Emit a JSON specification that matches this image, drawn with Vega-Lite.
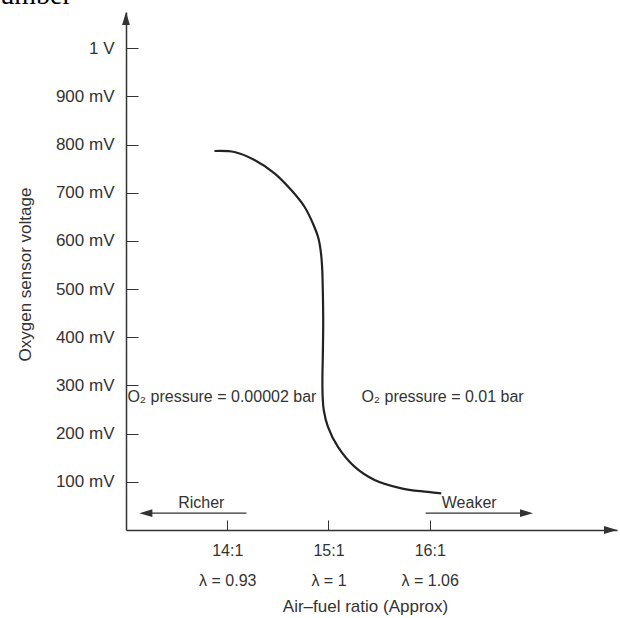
{
  "$schema": "https://vega.github.io/schema/vega-lite/v6.json",
  "width": 491,
  "height": 518,
  "autosize": {"type": "none"},
  "padding": {"left": 126, "top": 12, "right": 3, "bottom": 88},
  "background": "white",
  "config": {
    "view": {"stroke": null},
    "font": "Liberation Sans",
    "title": {"font": "Liberation Serif", "fontSize": 28, "fontWeight": "normal", "color": "#000"}
  },
  "title": {"text": "Number", "anchor": "start", "frame": "group", "dx": -146, "dy": 29, "offset": 9, "baseline": "alphabetic"},
  "datasets": {
    "curve": [
      {"ratio": 13.874, "mV": 786.5, "order": 1},
      {"ratio": 14.071, "mV": 784.4, "order": 2},
      {"ratio": 14.269, "mV": 767.8, "order": 3},
      {"ratio": 14.467, "mV": 740.2, "order": 4},
      {"ratio": 14.632, "mV": 705.5, "order": 5},
      {"ratio": 14.763, "mV": 670.9, "order": 6},
      {"ratio": 14.855, "mV": 632.0, "order": 7},
      {"ratio": 14.900, "mV": 606.0, "order": 8},
      {"ratio": 14.924, "mV": 578.0, "order": 9},
      {"ratio": 14.937, "mV": 546.4, "order": 10},
      {"ratio": 14.944, "mV": 498.0, "order": 11},
      {"ratio": 14.948, "mV": 429.6, "order": 12},
      {"ratio": 14.944, "mV": 359.6, "order": 13},
      {"ratio": 14.940, "mV": 311.3, "order": 14},
      {"ratio": 14.944, "mV": 269.8, "order": 15},
      {"ratio": 14.954, "mV": 248.0, "order": 16},
      {"ratio": 14.994, "mV": 214.4, "order": 17},
      {"ratio": 15.092, "mV": 172.9, "order": 18},
      {"ratio": 15.257, "mV": 131.4, "order": 19},
      {"ratio": 15.455, "mV": 103.8, "order": 20},
      {"ratio": 15.719, "mV": 86.5, "order": 21},
      {"ratio": 15.949, "mV": 79.5, "order": 22},
      {"ratio": 16.114, "mV": 76.2, "order": 23}
    ],
    "notes": [
      {"ratio": 13.014, "mV": 276, "text": "O₂ pressure = 0.00002 bar"},
      {"ratio": 15.325, "mV": 276, "text": "O₂ pressure = 0.01 bar"}
    ],
    "dirs": [
      {"ratio": 13.744, "mV": 57, "text": "Richer"},
      {"ratio": 16.39, "mV": 57, "text": "Weaker"}
    ],
    "arrows": [
      {"name": "Richer", "ratio": 14.19, "ratio2": 13.2, "mV": 35},
      {"name": "Weaker", "ratio": 15.96, "ratio2": 16.95, "mV": 35}
    ],
    "heads": [
      {"dir": "left", "ratio": 13.132, "mV": 35},
      {"dir": "right", "ratio": 17.02, "mV": 35},
      {"dir": "up", "ratio": 13, "mV": 1075},
      {"dir": "east", "ratio": 17.85, "mV": 0}
    ]
  },
  "encoding": {
    "x": {
      "field": "ratio", "type": "quantitative",
      "scale": {"domain": [13, 17.85], "nice": false, "zero": false},
      "axis": {
        "values": [14, 15, 16],
        "grid": false,
        "labelExpr": "[datum.value + ':1', datum.value == 14 ? 'λ = 0.93' : (datum.value == 15 ? 'λ = 1' : 'λ = 1.06')]",
        "labelLineHeight": 30,
        "labelFontSize": 16,
        "labelColor": "#333",
        "labelPadding": 22,
        "tickSize": -10,
        "tickColor": "#333",
        "domainColor": "#333",
        "domainWidth": 1.5,
        "title": "Air–fuel ratio (Approx)",
        "titleFontSize": 17,
        "titleFontWeight": "normal",
        "titleColor": "#333",
        "titleX": 239,
        "titlePadding": 10
      }
    },
    "y": {
      "field": "mV", "type": "quantitative",
      "scale": {"domain": [0, 1075], "nice": false, "zero": false},
      "axis": {
        "values": [100, 200, 300, 400, 500, 600, 700, 800, 900, 1000],
        "grid": false,
        "labelExpr": "datum.value == 1000 ? '1 V' : datum.value + ' mV'",
        "labelFontSize": 17,
        "labelColor": "#333",
        "labelPadding": 24,
        "tickSize": -12,
        "tickColor": "#333",
        "domainColor": "#333",
        "domainWidth": 1.5,
        "title": "Oxygen sensor voltage",
        "titleFontSize": 17,
        "titleFontWeight": "normal",
        "titleColor": "#333",
        "titleY": 262,
        "titlePadding": 21
      }
    }
  },
  "layer": [
    {
      "data": {"name": "curve"},
      "mark": {"type": "line", "color": "#222", "strokeWidth": 2.2, "interpolate": "catmull-rom", "clip": false},
      "encoding": {"order": {"field": "order", "type": "quantitative"}}
    },
    {
      "data": {"name": "notes"},
      "mark": {"type": "text", "align": "left", "baseline": "middle", "fontSize": 16, "color": "#333"},
      "encoding": {"text": {"field": "text"}}
    },
    {
      "data": {"name": "dirs"},
      "mark": {"type": "text", "align": "center", "baseline": "middle", "fontSize": 16, "color": "#333"},
      "encoding": {"text": {"field": "text"}}
    },
    {
      "data": {"name": "arrows"},
      "mark": {"type": "rule", "color": "#333", "strokeWidth": 1.3},
      "encoding": {"x2": {"field": "ratio2"}}
    },
    {
      "data": {"name": "heads"},
      "transform": [{"filter": "datum.dir == 'left'"}],
      "mark": {"type": "point", "filled": true, "color": "#333", "opacity": 1, "size": 169, "shape": "M 0 0 L 2 -0.6 L 2 0.6 Z"}
    },
    {
      "data": {"name": "heads"},
      "transform": [{"filter": "datum.dir == 'right'"}],
      "mark": {"type": "point", "filled": true, "color": "#333", "opacity": 1, "size": 169, "shape": "M 0 0 L -2 -0.6 L -2 0.6 Z"}
    },
    {
      "data": {"name": "heads"},
      "transform": [{"filter": "datum.dir == 'up'"}],
      "mark": {"type": "point", "filled": true, "color": "#333", "opacity": 1, "size": 169, "shape": "M 0 0 L -0.6 2 L 0.6 2 Z", "clip": false}
    },
    {
      "data": {"name": "heads"},
      "transform": [{"filter": "datum.dir == 'east'"}],
      "mark": {"type": "point", "filled": true, "color": "#333", "opacity": 1, "size": 169, "shape": "M 0 0 L -2 -0.6 L -2 0.6 Z", "clip": false}
    }
  ]
}
